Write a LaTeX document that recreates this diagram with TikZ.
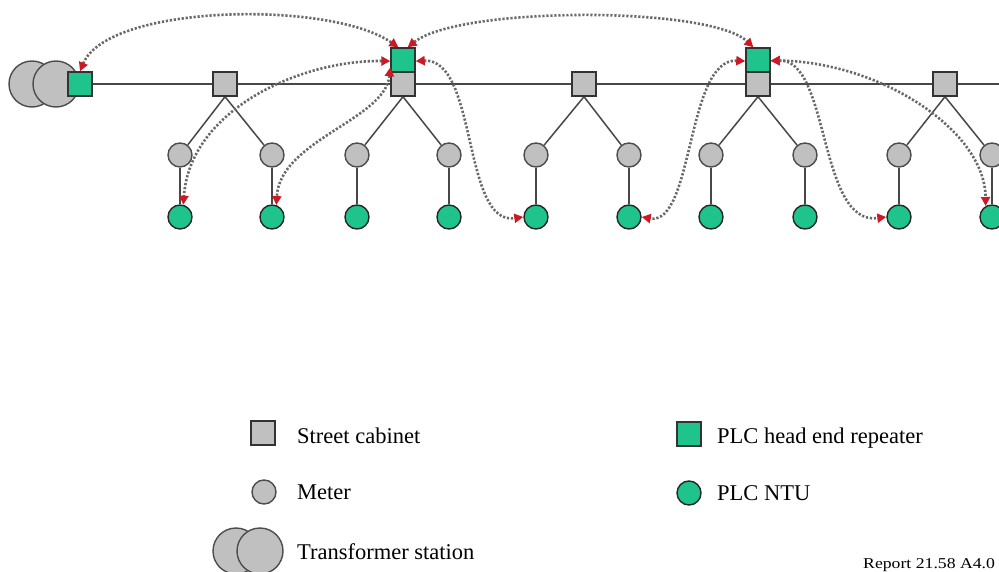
\documentclass[tikz,border=0pt]{standalone}
\usepackage{fontspec}
\setmainfont{Liberation Serif}
\usetikzlibrary{arrows.meta,backgrounds}
\definecolor{cabgray}{RGB}{192,192,192}
\definecolor{plcgreen}{RGB}{30,196,140}
\definecolor{arrred}{RGB}{205,25,35}
\definecolor{dotgray}{RGB}{105,105,105}
\tikzset{
  cab/.style={draw=black!80, fill=cabgray, minimum size=24pt, inner sep=0pt, line width=1.4pt},
  rep/.style={cab, fill=plcgreen},
  meter/.style={circle, draw=black!70, fill=cabgray, minimum size=24pt, inner sep=0pt, line width=1.4pt},
  ntu/.style={meter, fill=plcgreen, draw=black!85},
  trans/.style={circle, draw=black!70, fill=cabgray, minimum size=46pt, inner sep=0pt, line width=1.4pt},
  link/.style={draw=black!72, line width=1.5pt},
  tip/.tip={Triangle[length=9pt, width=9pt, color=arrred]},
  sig/.style={draw=dotgray, line width=2.6pt, dash pattern=on 2.2pt off 1.8pt, tip-tip},
  legtext/.style={anchor=base west, inner sep=0pt, font=\fontsize{22.5}{24}\selectfont},
}
\begin{document}
\begin{tikzpicture}[x=1pt, y=-1pt]
\useasboundingbox (0,0) rectangle (999,572);
% transformer station and head end
\node[trans] (T1) at (32,84) {};
\node[trans] (T2) at (56,84) {};
\node[rep] (HE) at (80,84) {};
% street cabinets
\node[cab] (C1) at (225,84) {};
\node[cab] (C2) at (403,84) {};
\node[cab] (C3) at (584,84) {};
\node[cab] (C4) at (758,84) {};
\node[cab] (C5) at (945,84) {};
% repeaters
\node[rep] (R1) at (403,60) {};
\node[rep] (R2) at (758,60) {};
% meters and NTUs
\foreach \i/\x in {1/180,2/272,3/357,4/449,5/536,6/629,7/711,8/805,9/899,10/992}{
  \node[meter] (m\i) at (\x,155) {};
  \node[ntu] (n\i) at (\x,217) {};
}
\coordinate (lineend) at (1010,84);
\begin{scope}[on background layer]
  \draw[link] (HE) -- (lineend);
  \foreach \c/\a/\b in {C1/1/2, C2/3/4, C3/5/6, C4/7/8, C5/9/10}{
    \draw[link] (\c.south) -- (m\a);
    \draw[link] (\c.south) -- (m\b);
  }
  \foreach \i in {1,...,10}{
    \draw[link] (m\i) -- (n\i);
  }
\end{scope}
% signal paths
\draw[sig] (HE.north) .. controls (108,4) and (330,0) .. (R1.110);
\draw[sig] (R1.70) .. controls (460,6) and (710,6) .. (R2.110);
\draw[sig] (R1.185) .. controls (300,60) and (190,110) .. (n1.75);
\draw[sig] (R1.210) .. controls (385,120) and (280,140) .. (n2.70);
\draw[sig] (R1.355) .. controls (478,58) and (462,226) .. (n5.180);
\draw[sig] (R2.185) .. controls (686,58) and (694,226) .. (n6.0);
\draw[sig] (R2.355) .. controls (830,58) and (818,226) .. (n9.180);
\draw[sig] (R2.358) .. controls (880,62) and (985,130) .. (n10.120);
% legend
\node[cab] (lcab) at (263,433) {};
\node[legtext] (tcab) at (297,443) {Street cabinet};
\node[meter] (lmet) at (264,492) {};
\node[legtext] (tmet) at (297,499) {Meter};
\node[trans] (lt1) at (236,551) {};
\node[trans] (lt2) at (260,551) {};
\node[legtext] (ttr) at (297,559) {Transformer station};
\node[rep] (lrep) at (689,434) {};
\node[legtext] (trep) at (717,443) {PLC head end repeater};
\node[ntu] (lntu) at (689,493) {};
\node[legtext] (tntu) at (717,500) {PLC NTU};
\node[anchor=base west, inner sep=0pt, font=\fontsize{15}{15}\selectfont] (rep) at (863,568) {\scalebox{1.18}[1]{Report 21.58 A4.0}};
\end{tikzpicture}
\end{document}
